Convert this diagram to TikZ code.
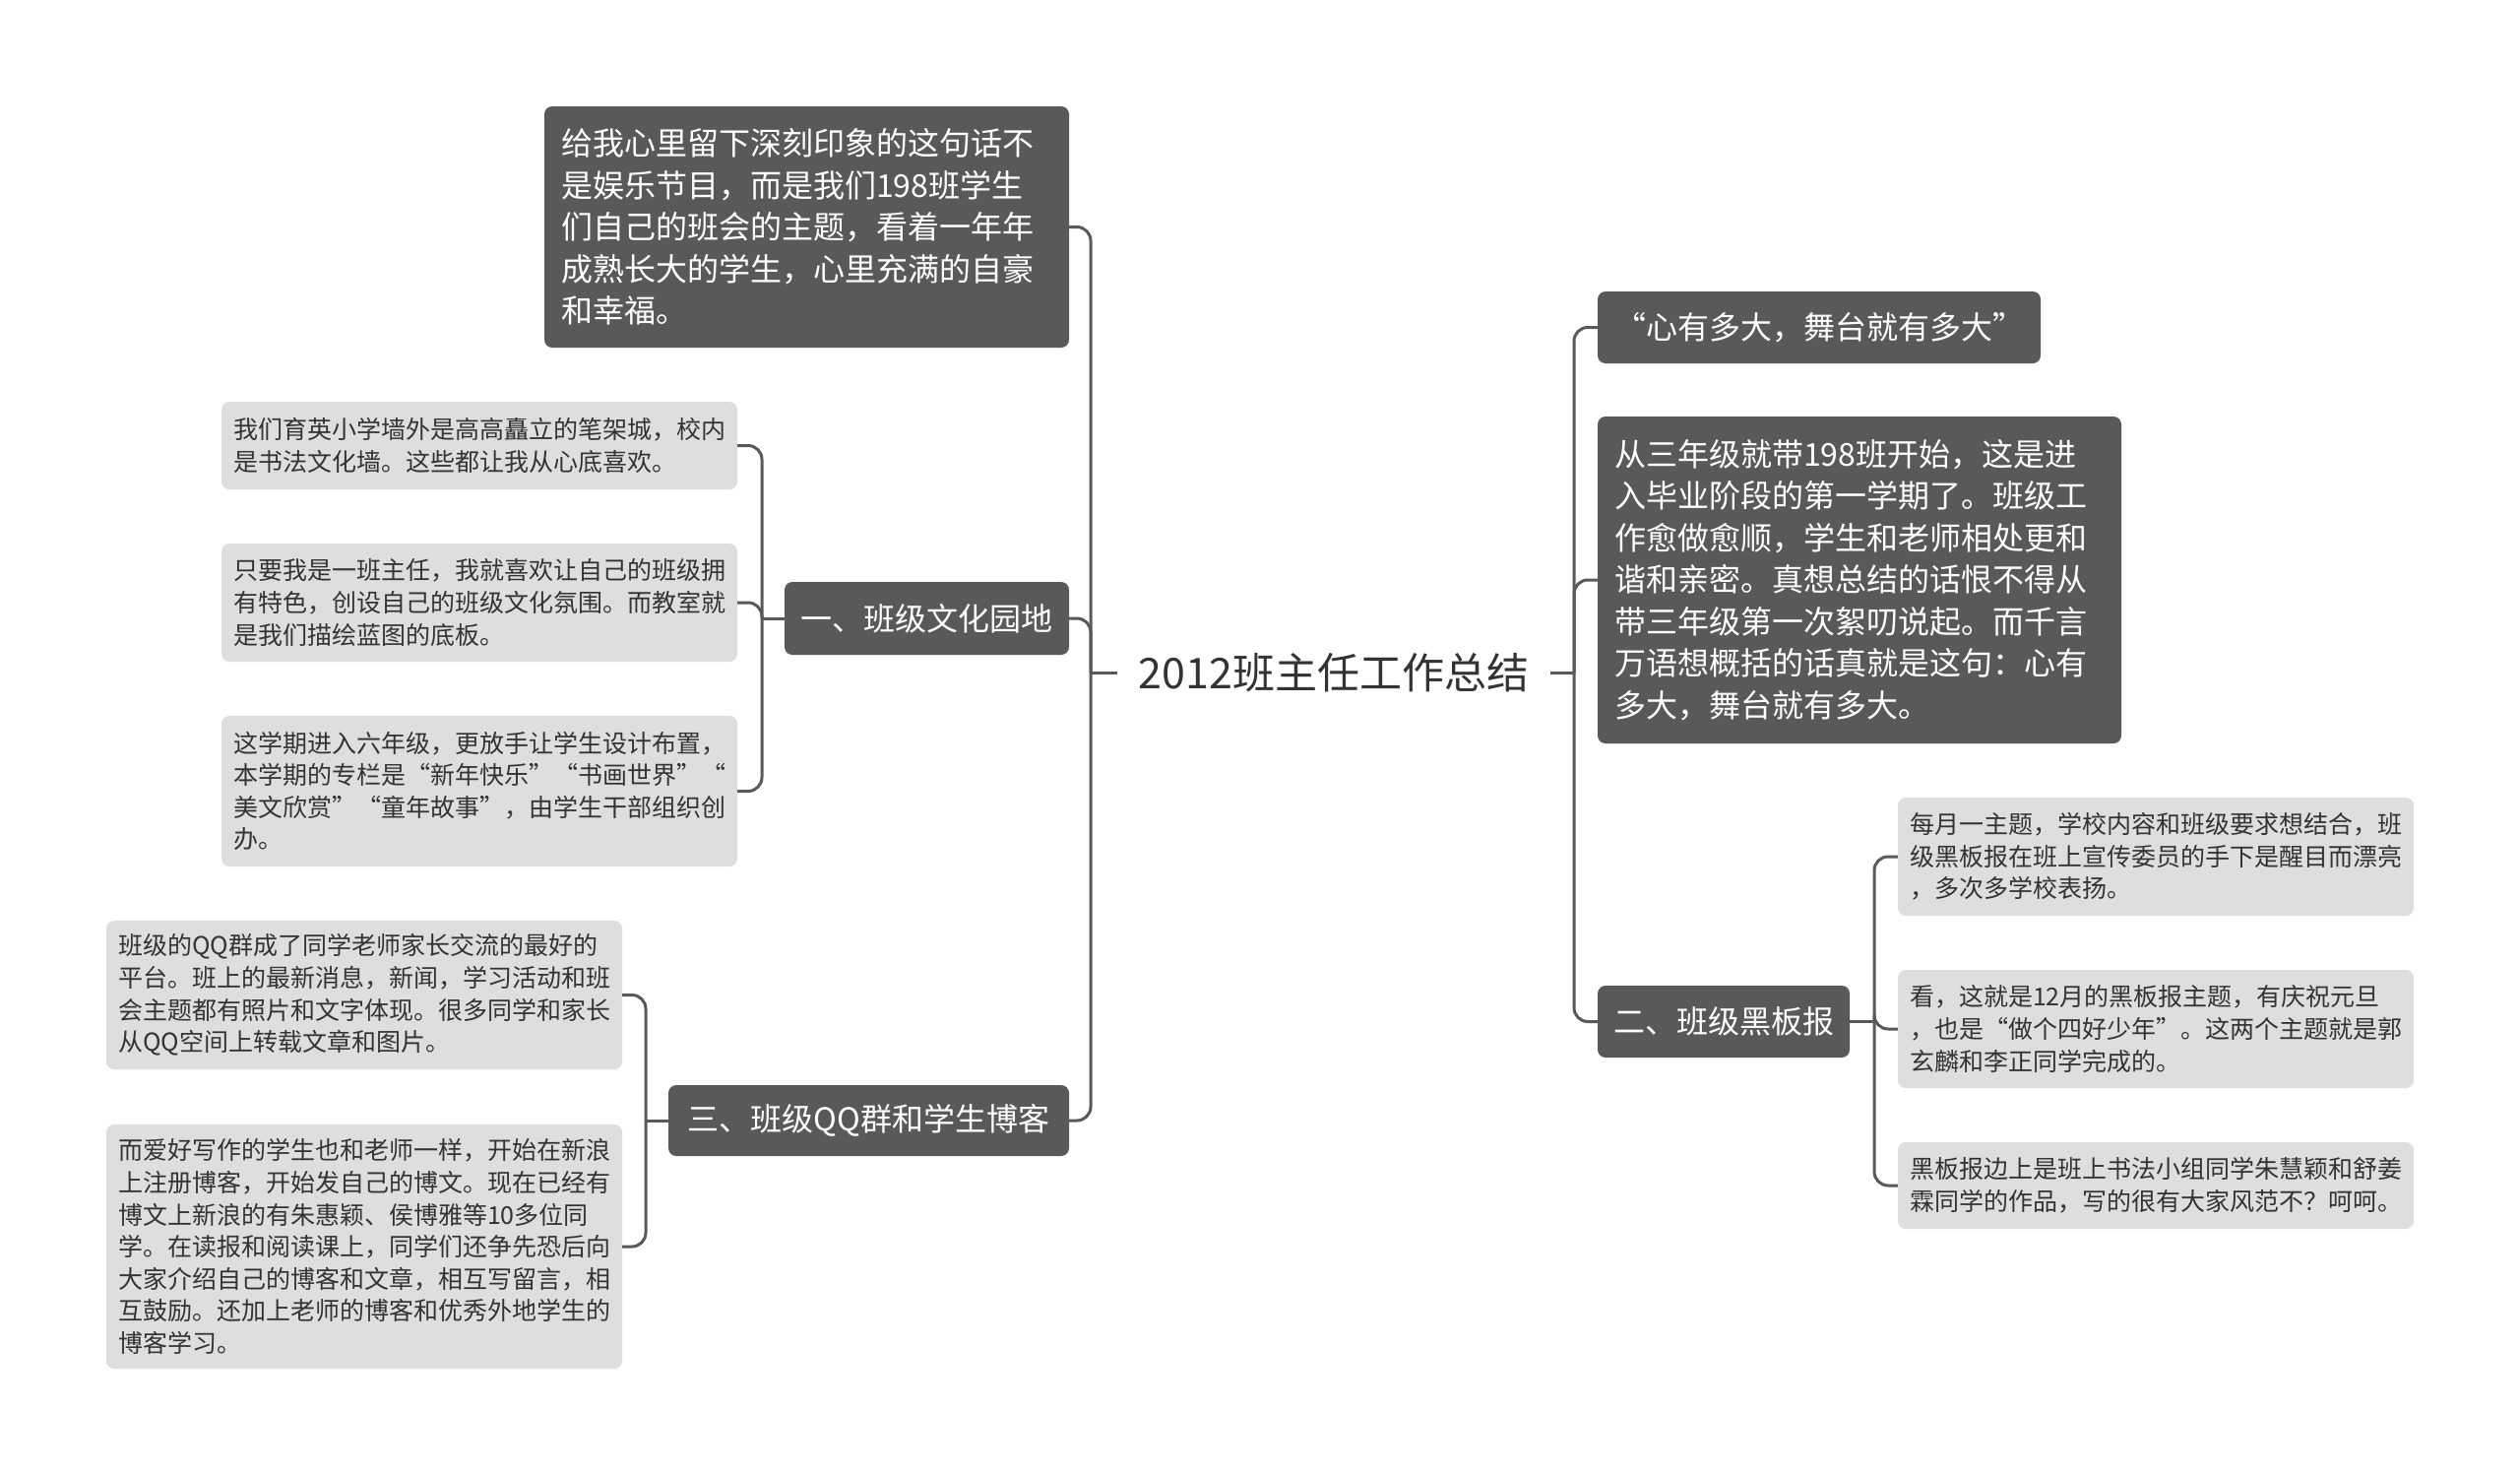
\documentclass[tikz,border=0pt]{standalone}
\usepackage{fontspec}
\setmainfont{Noto Sans CJK SC}
\definecolor{dk}{HTML}{595959}
\definecolor{lt}{HTML}{DEDEDE}
\definecolor{tx}{HTML}{333333}
\begin{document}
\begin{tikzpicture}[x=1pt,y=-1pt,
  darkbox/.style={fill=dk,text=white,rounded corners=8pt,inner ysep=0pt,font=\fontsize{32pt}{42.5pt}\selectfont},
  darkpara/.style={darkbox,align=left,inner xsep=17pt},
  darkhead/.style={darkbox,align=center,inner xsep=0pt},
  lightbox/.style={fill=lt,text=tx,rounded corners=8pt,inner ysep=0pt,inner xsep=12pt,align=left,text width=500pt,minimum width=524pt,font=\fontsize{25pt}{32.6pt}\selectfont},
  conn/.style={draw=dk,line width=3pt,rounded corners=14pt},
  stub/.style={draw=dk,line width=3pt}
]
\useasboundingbox[fill=white] (0,0) rectangle (2560,1499);

% root
\node[text=tx,font=\fontsize{43pt}{50pt}\selectfont,inner xsep=22pt,inner ysep=0pt] (root) at (1355,683) {2012班主任工作总结};
\coordinate (tL) at (1108,683);
\coordinate (tR) at (1599,683);

% left level 1
\node[darkpara,text width=499pt,minimum width=533pt,minimum height=245pt] (D1) at (819.5,230.5) {给我心里留下深刻印象的这句话不\\是娱乐节目，而是我们198班学生\\们自己的班会的主题，看着一年年\\成熟长大的学生，心里充满的自豪\\和幸福。};
\node[darkhead,minimum width=289pt,minimum height=74pt] (L1) at (941.5,628) {一、班级文化园地};
\node[darkhead,minimum width=407pt,minimum height=72pt] (L3) at (882.5,1138) {三、班级QQ群和学生博客};

% right level 1
\node[darkhead,minimum width=450pt,minimum height=73pt] (R1) at (1848,332.5) {“心有多大，舞台就有多大”};
\node[darkpara,text width=498pt,minimum width=532pt,minimum height=332pt] (R2) at (1889,589) {从三年级就带198班开始，这是进\\入毕业阶段的第一学期了。班级工\\作愈做愈顺，学生和老师相处更和\\谐和亲密。真想总结的话恨不得从\\带三年级第一次絮叨说起。而千言\\万语想概括的话真就是这句：心有\\多大，舞台就有多大。};
\node[darkhead,minimum width=256pt,minimum height=73pt] (R3) at (1751,1037.5) {二、班级黑板报};

% group 一
\node[lightbox,minimum height=89pt] (A1) at (487,452.5) {我们育英小学墙外是高高矗立的笔架城，校内\\是书法文化墙。这些都让我从心底喜欢。};
\node[lightbox,minimum height=120pt] (A2) at (487,612) {只要我是一班主任，我就喜欢让自己的班级拥\\有特色，创设自己的班级文化氛围。而教室就\\是我们描绘蓝图的底板。};
\node[lightbox,minimum height=153pt] (A3) at (487,803.5) {这学期进入六年级，更放手让学生设计布置，\\本学期的专栏是“新年快乐”“书画世界”“\\美文欣赏”“童年故事”，由学生干部组织创\\办。};
\coordinate (tA) at (774,628);

% group 三
\node[lightbox,minimum height=151pt] (Q1) at (370,1010.5) {班级的QQ群成了同学老师家长交流的最好的\\平台。班上的最新消息，新闻，学习活动和班\\会主题都有照片和文字体现。很多同学和家长\\从QQ空间上转载文章和图片。};
\node[lightbox,minimum height=248pt] (Q2) at (370,1266) {而爱好写作的学生也和老师一样，开始在新浪\\上注册博客，开始发自己的博文。现在已经有\\博文上新浪的有朱惠颖、侯博雅等10多位同\\学。在读报和阅读课上，同学们还争先恐后向\\大家介绍自己的博客和文章，相互写留言，相\\互鼓励。还加上老师的博客和优秀外地学生的\\博客学习。};
\coordinate (tQ) at (656,1138);

% group 二
\node[lightbox,minimum height=120pt] (B1) at (2190,870) {每月一主题，学校内容和班级要求想结合，班\\级黑板报在班上宣传委员的手下是醒目而漂亮\\，多次多学校表扬。};
\node[lightbox,minimum height=120pt] (B2) at (2190,1045) {看，这就是12月的黑板报主题，有庆祝元旦\\，也是“做个四好少年”。这两个主题就是郭\\玄麟和李正同学完成的。};
\node[lightbox,minimum height=88pt] (B3) at (2190,1204) {黑板报边上是班上书法小组同学朱慧颖和舒姜\\霖同学的作品，写的很有大家风范不？呵呵。};
\coordinate (tB) at (1904,1037.5);

% connectors
\draw[stub] (root.west) -- (tL);
\draw[stub] (root.east) -- (tR);
\draw[conn] (tL) |- (D1.east);
\draw[conn] (tL) |- (L1.east);
\draw[conn] (tL) |- (L3.east);
\draw[conn] (tR) |- (R1.west);
\draw[conn] (tR) |- (R2.west);
\draw[conn] (tR) |- (R3.west);

\draw[stub] (L1.west) -- (tA);
\draw[conn] (tA) |- (A1.east);
\draw[conn] (tA) |- (A2.east);
\draw[conn] (tA) |- (A3.east);

\draw[stub] (L3.west) -- (tQ);
\draw[conn] (tQ) |- (Q1.east);
\draw[conn] (tQ) |- (Q2.east);

\draw[stub] (R3.east) -- (tB);
\draw[conn] (tB) |- (B1.west);
\draw[conn] (tB) |- (B2.west);
\draw[conn] (tB) |- (B3.west);
\end{tikzpicture}
\end{document}
